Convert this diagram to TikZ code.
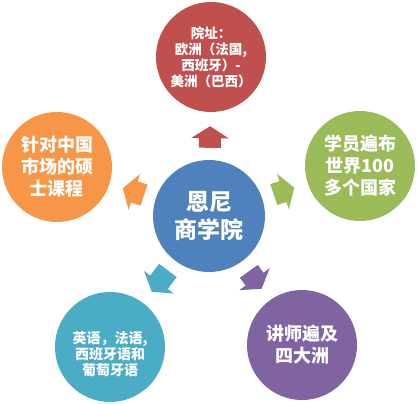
\documentclass[tikz,border=0pt]{standalone}
\usepackage{fontspec}
\newfontfamily\cjk{Noto Sans CJK SC}
\usetikzlibrary{arrows.meta}
\definecolor{hubblue}{HTML}{4F81BD}
\definecolor{topred}{HTML}{C0504D}
\definecolor{leftorange}{HTML}{F79646}
\definecolor{rightgreen}{HTML}{9BBB59}
\definecolor{lowaqua}{HTML}{4BACC6}
\definecolor{lowpurple}{HTML}{8064A2}
\newcommand{\fsz}[2]{\cjk\bfseries\fontsize{#1}{#2}\selectfont}
\begin{document}
\begin{tikzpicture}[x=1pt,y=1pt,
  ball/.style={circle,minimum size=110pt,inner sep=0pt,text=white,align=center},
  blockarrow/.style={line width=22pt,-{Triangle[length=12pt,width=37pt]},
    shorten <=12pt,shorten >=14pt}]
  \useasboundingbox (0,0) rectangle (418,-404);
  \node[ball,fill=hubblue,minimum size=112pt,font=\fsz{23}{28}] (hub) at (209,-216) {恩尼\\商学院};
  \node[ball,fill=topred,font=\fsz{13.5}{16}] (site) at (211,-57)
    {院址：\\欧洲（法国,\\西班牙）-\\美洲（巴西）};
  \node[ball,fill=rightgreen,font=\fsz{18}{22}] (alumni) at (360,-166)
    {学员遍布\\世界100\\多个国家};
  \node[ball,fill=lowpurple,font=\fsz{18}{22}] (faculty) at (302,-345)
    {讲师遍及\\四大洲};
  \node[ball,fill=lowaqua,font=\fsz{14}{16},text depth=0pt] (lang) at (110,-347)
    {\raisebox{4pt}{\parbox{100pt}{\centering 英语，法语,\\西班牙语和\\葡萄牙语}}};
  \node[ball,fill=leftorange,font=\fsz{18}{22}] (master) at (57,-167)
    {针对中国\\市场的硕\\士课程};
  % block arrows from the hub
  \foreach \s/\c in {site/topred,alumni/rightgreen,faculty/lowpurple,lang/lowaqua,master/leftorange}
    \draw[blockarrow,\c] (hub) -- (\s);
\end{tikzpicture}
\end{document}
